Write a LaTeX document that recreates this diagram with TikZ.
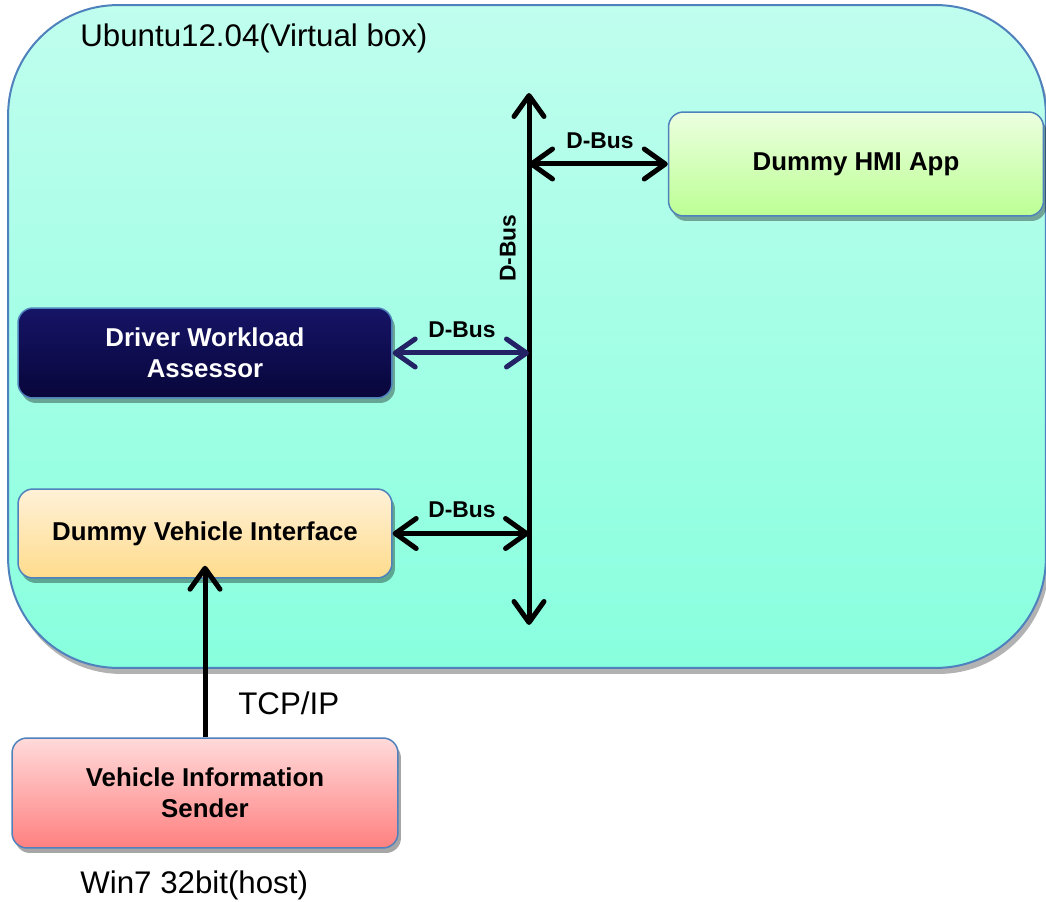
\documentclass[tikz,border=0pt]{standalone}
\usepackage{fontspec}
\setmainfont{Liberation Sans}
\usetikzlibrary{arrows.meta,shadows}

\definecolor{edgeblue}{RGB}{79,129,189}
\definecolor{vmtop}{RGB}{192,254,238}
\definecolor{vmbot}{RGB}{136,255,222}
\definecolor{hmitop}{RGB}{236,255,224}
\definecolor{hmibot}{RGB}{188,255,148}
\definecolor{dwatop}{RGB}{22,20,102}
\definecolor{dwabot}{RGB}{8,6,58}
\definecolor{dvitop}{RGB}{255,241,216}
\definecolor{dvibot}{RGB}{255,220,140}
\definecolor{vistop}{RGB}{255,218,218}
\definecolor{visbot}{RGB}{255,128,128}
\definecolor{navyline}{RGB}{34,34,100}

\tikzset{
  px/.style={x=0.02cm,y=-0.02cm},
  boxshadow/.style={drop shadow={shadow xshift=0.06cm,shadow yshift=-0.1cm,fill=black,opacity=0.35}},
  appbox/.style={draw=edgeblue,line width=0.03cm,rounded corners=0.3cm,
    boxshadow,align=center,inner sep=0pt,
    font=\fontsize{14.7pt}{17.6pt}\selectfont\bfseries},
  vmbox/.style={draw=edgeblue,line width=0.04cm,rounded corners=2.2cm,
    drop shadow={shadow xshift=0.06cm,shadow yshift=-0.12cm,fill=black,opacity=0.3},
    inner sep=0pt,top color=vmtop,bottom color=vmbot},
  buslabel/.style={font=\fontsize{13pt}{15pt}\selectfont\bfseries,inner sep=1pt},
  plainlabel/.style={font=\fontsize{17.8pt}{21pt}\selectfont,inner sep=0pt},
  busline/.style={line width=0.1cm,
    {Straight Barb[length=0.42cm,width=0.6cm,round]}-{Straight Barb[length=0.42cm,width=0.6cm,round]}},
  navyarrow/.style={color=navyline,line width=0.1cm,
    {Straight Barb[length=0.4cm,width=0.56cm,round]}-{Straight Barb[length=0.4cm,width=0.56cm,round]}},
  tcparrow/.style={line width=0.1cm,-{Straight Barb[length=0.42cm,width=0.6cm,round]}}
}

\begin{document}
\begin{tikzpicture}[px]
\useasboundingbox (0,0) rectangle (1046,902);

% virtual machine container
\node[vmbox,minimum width=20.76cm,minimum height=13.26cm] (vm) at (527,336.5) {};
\node[plainlabel,anchor=west] (vmlabel) at (80,38) {Ubuntu12.04(Virtual box)};

% applications
\node[appbox,top color=hmitop,bottom color=hmibot,minimum width=7.5cm,minimum height=2.08cm]
  (hmi) at (856,164) {\raisebox{-2pt}{Dummy HMI App}};
\node[appbox,top color=dwatop,bottom color=dwabot,text=white,minimum width=7.48cm,minimum height=1.8cm]
  (dwa) at (205,353) {Driver Workload\\Assessor};
\node[appbox,top color=dvitop,bottom color=dvibot,minimum width=7.48cm,minimum height=1.78cm]
  (dvi) at (205,533.5) {\raisebox{-2pt}{Dummy Vehicle Interface}};
\node[appbox,top color=vistop,bottom color=visbot,minimum width=7.72cm,minimum height=2.2cm]
  (vis) at (205,793) {Vehicle Information\\Sender};

% D-Bus backbone
\coordinate (busTop) at (529,93);
\coordinate (busBot) at (529,625);
\draw[busline] (busBot) -- (busTop);
\node[buslabel,rotate=90] (buslbl) at (508,248) {D-Bus};

% connections to the bus
\draw[busline] (busTop |- hmi.west) -- (hmi.west);
\node[buslabel] (hmilbl) at (600,141) {D-Bus};

\draw[navyarrow] (dwa.east) -- (dwa.east -| busTop);
\node[buslabel] (dwalbl) at (462,330) {D-Bus};

\draw[busline] (dvi.east) -- (dvi.east -| busTop);
\node[buslabel] (dvilbl) at (462,510) {D-Bus};

% host link
\draw[tcparrow,shorten >=-0.26cm] (vis.north) -- (dvi.south);
\node[plainlabel,anchor=west] (tcplbl) at (238,703) {TCP/IP};
\node[plainlabel,anchor=west] (hostlbl) at (80,885) {Win7 32bit(host)};
\end{tikzpicture}
\end{document}
